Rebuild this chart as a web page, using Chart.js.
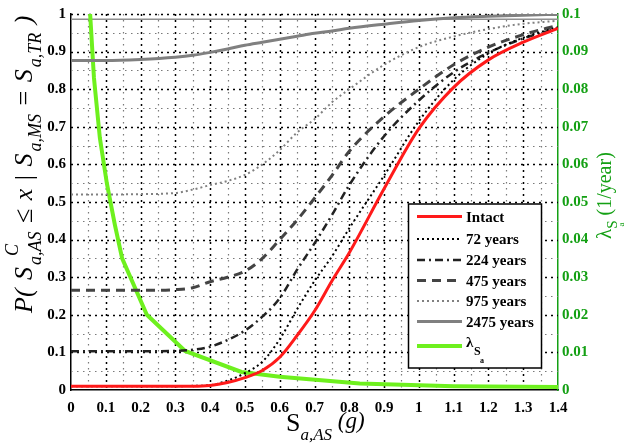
<!DOCTYPE html>
<html>
<head>
<meta charset="utf-8">
<script src="https://cdn.jsdelivr.net/npm/chart.js@4.4.0/dist/chart.umd.min.js"></script>
<style>
  html, body { margin: 0; padding: 0; background: #fff; }
</style>
</head>
<body>
<canvas id="chart" width="629" height="444"></canvas>
<script>
// aftershock spectral acceleration grid (g), shared by the fragility curves
const saGrid = [0, 0.1, 0.2, 0.3, 0.35, 0.4, 0.45, 0.5, 0.55, 0.6, 0.65, 0.7, 0.75, 0.8, 0.9, 1.0, 1.1, 1.2, 1.3, 1.4];

// P(collapse) per mainshock return period
const intact = [0.01, 0.01, 0.01, 0.01, 0.01, 0.012, 0.02, 0.033, 0.052, 0.087, 0.145, 0.21, 0.29, 0.365, 0.535, 0.695, 0.805, 0.878, 0.925, 0.962];
const yr72   = [0.01, 0.01, 0.01, 0.01, 0.011, 0.013, 0.025, 0.045, 0.075, 0.135, 0.215, 0.29, 0.355, 0.43, 0.57, 0.715, 0.825, 0.895, 0.937, 0.965];
const yr224  = [0.103, 0.103, 0.103, 0.104, 0.107, 0.115, 0.133, 0.158, 0.195, 0.244, 0.32, 0.39, 0.465, 0.545, 0.675, 0.77, 0.845, 0.897, 0.935, 0.962];
const yr475  = [0.265, 0.265, 0.265, 0.267, 0.272, 0.288, 0.3, 0.316, 0.35, 0.4, 0.452, 0.51, 0.57, 0.635, 0.727, 0.8, 0.865, 0.912, 0.945, 0.97];
const yr975  = [0.52, 0.52, 0.521, 0.524, 0.533, 0.545, 0.556, 0.572, 0.6, 0.638, 0.685, 0.72, 0.765, 0.8, 0.865, 0.912, 0.94, 0.96, 0.974, 0.982];
const yr2475 = [0.876, 0.876, 0.879, 0.885, 0.89, 0.898, 0.907, 0.917, 0.925, 0.933, 0.941, 0.949, 0.955, 0.962, 0.973, 0.983, 0.99, 0.994, 0.997, 0.999];

// hazard curve (right axis)
const hazardSa   = [0.055, 0.066, 0.083, 0.103, 0.126, 0.147, 0.218, 0.328, 0.49, 0.6, 0.83, 1.1, 1.4];
const hazardRate = [0.1, 0.083, 0.067, 0.055, 0.044, 0.035, 0.020, 0.0104, 0.0048, 0.0035, 0.0017, 0.001, 0.0008];

// thin horizontal line near the top
const refLevel = 0.986;

// tick values
const xTicks  = [0, 0.1, 0.2, 0.3, 0.4, 0.5, 0.6, 0.7, 0.8, 0.9, 1, 1.1, 1.2, 1.3, 1.4];
const yTicks  = [0, 0.1, 0.2, 0.3, 0.4, 0.5, 0.6, 0.7, 0.8, 0.9, 1];
const y2Ticks = [0, 0.01, 0.02, 0.03, 0.04, 0.05, 0.06, 0.07, 0.08, 0.09, 0.1];

const SERIF = '"Liberation Serif", "DejaVu Serif", serif';
const AXIS_GREEN = '#14a014';

function pts(xs, ys) {
  return xs.map((v, i) => ({ x: v, y: ys[i] }));
}

// dotted grid, major every 0.1 and minor in between
const dotGrid = {
  id: 'dotGrid',
  beforeDatasetsDraw(chart) {
    const c = chart.ctx;
    const a = chart.chartArea;
    const sx = chart.scales.x, sy = chart.scales.y;
    c.save();
    function seg(x1, y1, x2, y2, major) {
      c.strokeStyle = major ? '#000' : '#7a7a7a';
      c.lineWidth = major ? 1.5 : 1.2;
      c.setLineDash(major ? [2, 4] : [1.5, 4.5]);
      c.beginPath(); c.moveTo(x1, y1); c.lineTo(x2, y2); c.stroke();
    }
    xTicks.forEach((v, i) => {
      const px = Math.round(sx.getPixelForValue(v)) + 0.5;
      if (i > 0 && i < xTicks.length - 1) seg(px, a.top, px, a.bottom, true);
      if (i < xTicks.length - 1) {
        const mx = Math.round(sx.getPixelForValue((v + xTicks[i + 1]) / 2)) + 0.5;
        seg(mx, a.top, mx, a.bottom, false);
      }
    });
    yTicks.forEach((v, i) => {
      const py = Math.round(sy.getPixelForValue(v)) + 0.5;
      if (i > 0) seg(a.left, py, a.right, py, true);
      if (i < yTicks.length - 1) {
        const my = Math.round(sy.getPixelForValue((v + yTicks[i + 1]) / 2)) + 0.5;
        seg(a.left, my, a.right, my, false);
      }
    });
    c.restore();
  }
};

// draws a run of text pieces (with sub/superscripts) along a baseline
function richText(c, parts, x, y, angle, color, gap) {
  c.save();
  c.translate(x, y);
  c.rotate(angle);
  c.fillStyle = color;
  c.textBaseline = 'alphabetic';
  c.textAlign = 'left';
  let pos = 0;
  parts.forEach(p => {
    c.font = p.f;
    c.fillText(p.t, pos + (p.dx || 0), p.dy || 0);
    if (!p.stay) pos += c.measureText(p.t).width + (gap || 0);
  });
  c.restore();
}

const it = s => 'italic ' + s + 'px ' + SERIF;
const rm = s => s + 'px ' + SERIF;

const axisTitles = {
  id: 'axisTitles',
  afterDraw(chart) {
    const c = chart.ctx;
    // left
    richText(c, [
      { t: 'P(', f: it(26) },
      { t: ' S', f: it(26) },
      { t: 'C', f: it(18), dy: -14, dx: 9, stay: true },
      { t: 'a,AS', f: it(18), dy: 9 },
      { t: ' \u2264 ', f: rm(26) },
      { t: 'x', f: it(26) },
      { t: ' | ', f: rm(26) },
      { t: 'S', f: it(26) },
      { t: 'a,MS', f: it(18), dy: 9 },
      { t: ' = ', f: rm(26) },
      { t: 'S', f: it(26) },
      { t: 'a,TR', f: it(18), dy: 9 },
      { t: ' )', f: it(26) }
    ], 32, 313, -Math.PI / 2, '#000', 2);
    // bottom
    richText(c, [
      { t: 'S', f: rm(26) },
      { t: 'a,AS', f: it(17), dy: 9 },
      { t: ' (g)', f: it(23), dy: -3 }
    ], 286, 431, 0, '#000');
    // right
    richText(c, [
      { t: '\u03bb', f: rm(21) },
      { t: 'S', f: rm(15), dy: 6 },
      { t: 'a', f: rm(9), dy: 13, dx: -6, stay: true },
      { t: ' (1/year)', f: rm(20) }
    ], 611, 239, -Math.PI / 2, AXIS_GREEN);
  }
};

// boxed legend inside the plot
const boxLegend = {
  id: 'boxLegend',
  afterDatasetsDraw(chart) {
    const c = chart.ctx;
    const rows = [216.5, 239, 260, 280.5, 301, 321.5, 346];
    c.save();
    c.fillStyle = '#fff';
    c.fillRect(408.5, 204, 133, 164);
    c.strokeStyle = '#000';
    c.lineWidth = 1.5;
    c.strokeRect(408.5, 204, 133, 164);
    chart.data.datasets.slice(0, 7).forEach((ds, i) => {
      const y = rows[i];
      c.strokeStyle = ds.borderColor;
      c.lineWidth = ds.borderWidth;
      c.setLineDash(ds.borderDash || []);
      c.beginPath(); c.moveTo(417, y); c.lineTo(462, y); c.stroke();
      c.setLineDash([]);
      c.fillStyle = '#000';
      c.textBaseline = 'alphabetic';
      if (i === 6) {
        c.font = 'bold 15px ' + SERIF;
        c.fillText('\u03bb', 466, y + 1);
        c.font = 'bold 12px ' + SERIF;
        c.fillText('S', 474, y + 9);
        c.font = 'bold 8px ' + SERIF;
        c.fillText('a', 480, y + 17);
      } else {
        c.font = 'bold 15px ' + SERIF;
        c.fillText(ds.label, 466, y + 5);
      }
    });
    c.restore();
  }
};

const tickFont = { family: SERIF, size: 15, weight: 'bold' };

new Chart(document.getElementById('chart'), {
  type: 'line',
  data: {
    datasets: [
      { label: 'Intact', data: pts(saGrid, intact), borderColor: '#ff1a1a', borderWidth: 3 },
      { label: '72 years', data: pts(saGrid, yr72), borderColor: '#000', borderWidth: 2, borderDash: [2, 3] },
      { label: '224 years', data: pts(saGrid, yr224), borderColor: '#222', borderWidth: 2.5, borderDash: [8, 4, 2, 4] },
      { label: '475 years', data: pts(saGrid, yr475), borderColor: '#444', borderWidth: 3, borderDash: [9, 6] },
      { label: '975 years', data: pts(saGrid, yr975), borderColor: '#808080', borderWidth: 2, borderDash: [2, 3] },
      { label: '2475 years', data: pts(saGrid, yr2475), borderColor: '#808080', borderWidth: 3 },
      { label: '\u03bbSa', data: pts(hazardSa, hazardRate), borderColor: '#6ef01e', borderWidth: 4,
        yAxisID: 'y2', tension: 0, cubicInterpolationMode: 'default' },
      { label: '', data: [{ x: 0, y: refLevel }, { x: 1.4, y: refLevel }], borderColor: '#909090', borderWidth: 1.5,
        tension: 0, cubicInterpolationMode: 'default' }
    ]
  },
  options: {
    responsive: false,
    animation: false,
    layout: { padding: { top: 7, left: 0, right: 0, bottom: 0 } },
    elements: {
      point: { radius: 0 },
      line: { tension: 0.4, cubicInterpolationMode: 'monotone', fill: false }
    },
    plugins: { legend: { display: false }, tooltip: { enabled: false } },
    scales: {
      x: {
        type: 'linear', min: 0, max: 1.4,
        afterBuildTicks: s => { s.ticks = xTicks.map(v => ({ value: v })); },
        afterFit: s => { s.height = 54; },
        grid: { display: false, drawTicks: false },
        border: { color: '#000', width: 1.5 },
        ticks: { color: '#000', font: tickFont, padding: 9, maxRotation: 0, autoSkip: false,
                 callback: v => String(v) }
      },
      y: {
        position: 'left', min: 0, max: 1,
        afterBuildTicks: s => { s.ticks = yTicks.map(v => ({ value: v })); },
        afterFit: s => { s.width = 71; },
        grid: { display: false, drawTicks: false },
        border: { color: '#000', width: 1.5 },
        ticks: { color: '#000', font: tickFont, padding: 5, autoSkip: false, callback: v => String(v) }
      },
      y2: {
        position: 'right', min: 0, max: 0.1,
        afterBuildTicks: s => { s.ticks = y2Ticks.map(v => ({ value: v })); },
        afterFit: s => { s.width = 71; },
        grid: { display: false, drawTicks: false },
        border: { color: AXIS_GREEN, width: 1.5 },
        ticks: { color: AXIS_GREEN, font: tickFont, padding: 4, autoSkip: false, callback: v => String(v) }
      }
    }
  },
  plugins: [dotGrid, axisTitles, boxLegend]
});
</script>
</body>
</html>
